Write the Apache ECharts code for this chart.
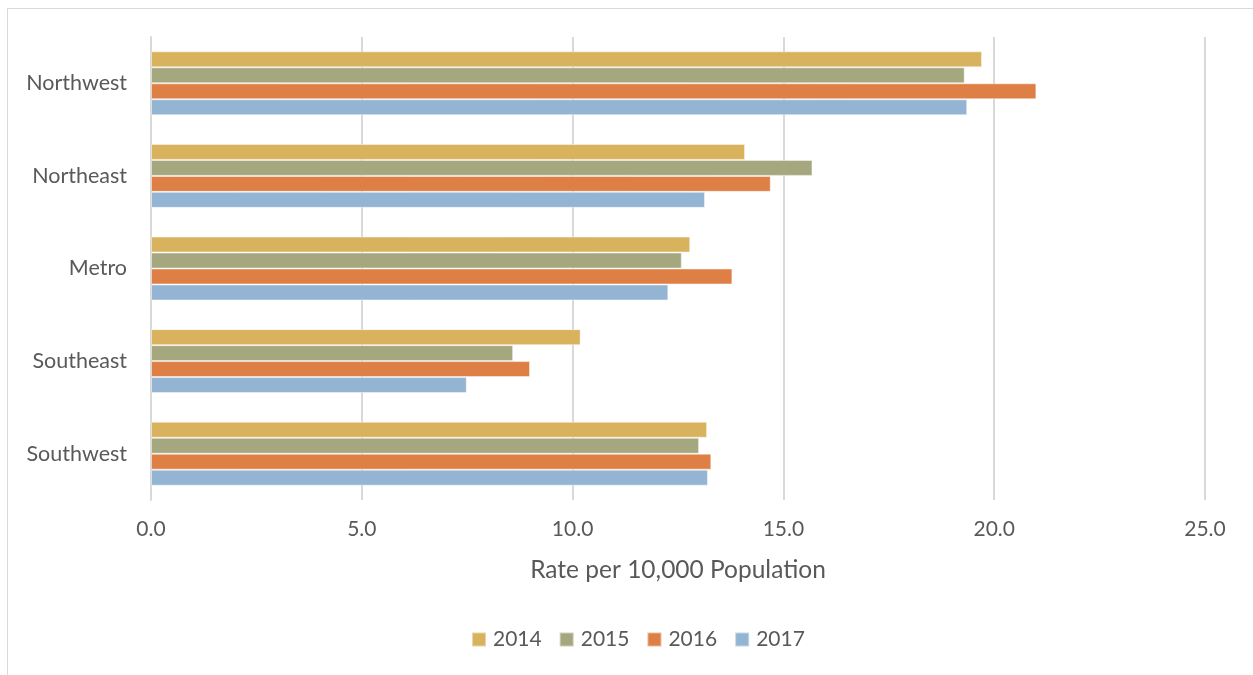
<!DOCTYPE html>
<html>
<head>
<meta charset="utf-8">
<script src="https://cdn.jsdelivr.net/npm/echarts@6/dist/echarts.min.js"></script>
<style>
html,body{margin:0;padding:0;background:#fff;}
#frame{position:absolute;left:7px;top:8px;width:1246px;height:667px;border-left:1px solid #d9d9d9;border-top:1px solid #d9d9d9;box-sizing:border-box;}
#chart{position:absolute;left:0;top:0;width:1253px;height:675px;}
</style>
</head>
<body>
<div id="frame"></div>
<div id="chart"></div>
<script>
const categories = ['Northwest', 'Northeast', 'Metro', 'Southeast', 'Southwest'];
const seriesNames = ['2014', '2015', '2016', '2017'];
const values2014 = [19.71, 14.09, 12.79, 10.19, 13.19];
const values2015 = [19.30, 15.69, 12.59, 8.59, 13.00];
const values2016 = [21.00, 14.70, 13.79, 8.99, 13.29];
const values2017 = [19.36, 13.14, 12.27, 7.49, 13.21];
const xTicks = [0, 5, 10, 15, 20, 25];
const axisTitle = 'Rate per 10,000 Population';

const colors = ['#D8B25C', '#A5A87E', '#DE8046', '#93B5D3'];
const allValues = [values2014, values2015, values2016, values2017];
const font = 'Lato, "Open Sans", sans-serif';

const chart = echarts.init(document.getElementById('chart'), null, {renderer: 'canvas'});
chart.setOption({
  animation: false,
  backgroundColor: 'transparent',
  grid: {left: 151, right: 48, top: 37, bottom: 175, containLabel: false},
  legend: {
    data: seriesNames,
    bottom: 20,
    left: 466,
    itemWidth: 14,
    itemHeight: 14,
    itemGap: 17,
    icon: 'rect',
    textStyle: {color: '#595959', fontSize: 21, fontFamily: font, padding: [0, 0, 0, 2]}
  },
  xAxis: {
    type: 'value',
    min: xTicks[0],
    max: xTicks[xTicks.length - 1],
    interval: 5,
    name: axisTitle,
    nameLocation: 'middle',
    nameGap: 58,
    nameTextStyle: {color: '#595959', fontSize: 24.5, fontFamily: font},
    axisLine: {show: false},
    axisTick: {show: false},
    axisLabel: {color: '#595959', fontSize: 21, fontFamily: font, margin: 19, formatter: v => v.toFixed(1)},
    splitLine: {show: true, lineStyle: {color: '#d9d9d9', width: 2}}
  },
  yAxis: {
    type: 'category',
    data: categories,
    inverse: true,
    axisLine: {show: true, lineStyle: {color: '#d9d9d9', width: 2}},
    axisTick: {show: false},
    axisLabel: {color: '#595959', fontSize: 21.5, fontFamily: font, margin: 24}
  },
  series: seriesNames.map((n, i) => ({
    name: n,
    type: 'bar',
    data: allValues[i],
    barGap: '0%',
    barCategoryGap: '31%',
    itemStyle: {color: colors[i], borderColor: 'rgba(255,255,255,0.45)', borderWidth: 1}
  }))
});
</script>
</body>
</html>
